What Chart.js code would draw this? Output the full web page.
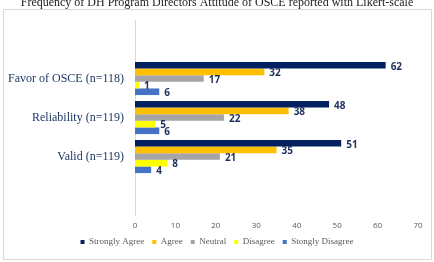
<!DOCTYPE html>
<html>
<head>
<meta charset="utf-8">
<script src="https://cdn.jsdelivr.net/npm/chart.js@4"></script>
<style>
html,body{margin:0;padding:0;background:#fff;}
#wrap{position:absolute;left:0;top:0;width:434px;height:262px;}
</style>
</head>
<body>
<div id="wrap"><canvas id="c" width="434" height="262"></canvas></div>
<script>
const titleText = 'Frequency of DH Program Directors Attitude of OSCE reported with Likert-scale';
const categories = ['Favor of OSCE (n=118)', 'Reliability (n=119)', 'Valid (n=119)'];
const seriesNames = ['Strongly Agree', 'Agree', 'Neutral', 'Disagree', 'Stongly Disagree'];
const stronglyAgree = [62, 48, 51];
const agree = [32, 38, 35];
const neutral = [17, 22, 21];
const disagree = [1, 5, 8];
const stonglyDisagree = [6, 6, 4];
const xTicks = [0, 10, 20, 30, 40, 50, 60, 70];
const colors = ['#002060', '#FFC000', '#A5A5A5', '#FFFF00', '#4472C4'];

const allSeries = [stronglyAgree, agree, neutral, disagree, stonglyDisagree];
// pad with empty categories above and below (as in the original axis)
const labels = [''].concat(categories, ['']);
const datasets = allSeries.map((s, i) => ({
  label: seriesNames[i],
  data: [null].concat(s, [null]),
  backgroundColor: colors[i],
  borderWidth: 0,
  categoryPercentage: 0.85,
  barPercentage: 1.0
}));

const frame = {
  id: 'frame',
  afterLayout(chart) {
    // let the category labels use the space left of the layout padding
    chart.scales.y.left = 0;
  },
  beforeDraw(chart) {
    const ctx = chart.ctx;
    ctx.save();
    ctx.fillStyle = '#fff';
    ctx.fillRect(0, 0, chart.width, chart.height);
    ctx.strokeStyle = '#d9d9d9';
    ctx.lineWidth = 1;
    ctx.strokeRect(3.5, 9.5, 428, 250);
    ctx.restore();
  }
};

const valueLabels = {
  id: 'valueLabels',
  afterDatasetsDraw(chart) {
    const ctx = chart.ctx;
    ctx.save();
    ctx.font = 'bold 10px "Open Sans", "Liberation Sans", sans-serif';
    ctx.fillStyle = '#1F2F5C';
    ctx.textAlign = 'left';
    ctx.textBaseline = 'middle';
    chart.data.datasets.forEach((ds, di) => {
      const meta = chart.getDatasetMeta(di);
      meta.data.forEach((el, i) => {
        const v = ds.data[i];
        if (v === null || v === undefined) return;
        ctx.fillText(String(v), el.x + 5, el.y + 1.5);
      });
    });
    ctx.restore();
  }
};

new Chart(document.getElementById('c'), {
  type: 'bar',
  data: { labels, datasets },
  plugins: [frame, valueLabels],
  options: {
    indexAxis: 'y',
    responsive: false,
    animation: false,
    layout: { padding: { left: 16, right: 16, top: 0, bottom: 5.5 } },
    scales: {
      x: {
        min: 0, max: 70,
        afterBuildTicks(s) { s.ticks = xTicks.map(v => ({ value: v })); },
        afterFit(s) { s.height = 14.5; },
        grid: { display: false, drawTicks: false, tickLength: 0 },
        border: { display: false },
        ticks: { padding: 6, color: '#595959', font: { family: '"Open Sans", "Liberation Sans", sans-serif', size: 8 } }
      },
      y: {
        grid: { display: false, drawTicks: false, tickLength: 0 },
        border: { display: true, color: '#d9d9d9', width: 1 },
        afterFit(s) { s.width = 119; },
        ticks: { padding: 11, color: '#1F3864', font: { family: '"Liberation Serif", "Times New Roman", serif', size: 12 } }
      }
    },
    plugins: {
      title: {
        display: true,
        text: titleText,
        color: '#222',
        font: { family: '"Liberation Serif", "Times New Roman", serif', size: 12, weight: 'normal' },
        padding: { top: -4, bottom: 9.6 }
      },
      legend: {
        position: 'bottom',
        labels: {
          boxWidth: 4, boxHeight: 4, padding: 8,
          color: '#595959',
          font: { family: '"Liberation Serif", "Times New Roman", serif', size: 9 }
        }
      },
      tooltip: { enabled: false }
    }
  }
});
</script>
</body>
</html>
